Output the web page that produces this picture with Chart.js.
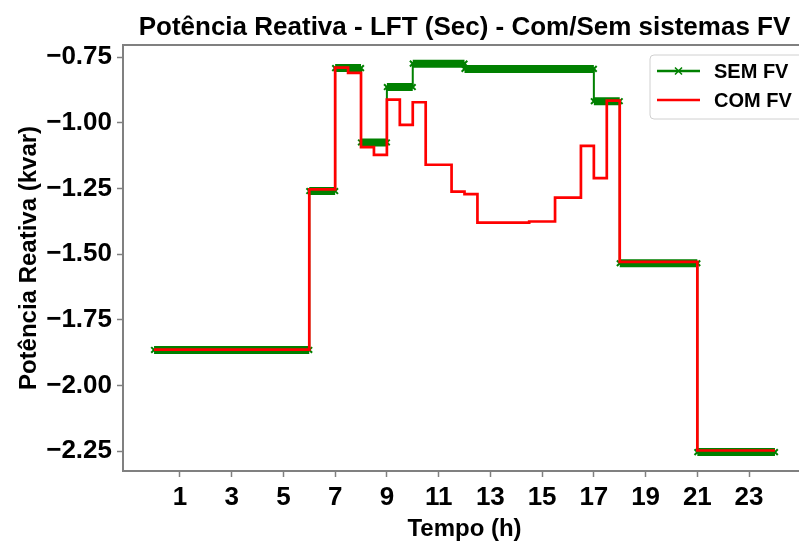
<!DOCTYPE html>
<html>
<head>
<meta charset="utf-8">
<script src="https://cdn.jsdelivr.net/npm/chart.js@4.4.0/dist/chart.umd.min.js"></script>
<style>
  html, body { margin: 0; padding: 0; background: #fff; overflow: hidden; }
  #wrap { width: 799px; height: 545px; overflow: hidden; }
  #box { width: 812px; height: 545px; }
</style>
</head>
<body>
<div id="wrap"><div id="box"><canvas id="myChart"></canvas></div></div>
<script>
// hour where each step starts, the last entry closes the day
var sem_x = [0, 6, 7, 8, 9, 10, 12, 17, 18, 21, 24];
var sem_q = [-1.865, -1.26, -0.792, -1.075, -0.864, -0.775, -0.795, -0.918, -1.535, -2.254];

var com_x = [0, 6, 7, 7.5, 8, 8.5, 9, 9.5, 10, 10.5, 11.5, 12, 12.5, 14.5, 15.5, 16.5, 17, 17.5, 18, 21, 24];
var com_q = [-1.864, -1.254, -0.79, -0.81, -1.093, -1.122, -0.912, -1.008, -0.922, -1.16, -1.262, -1.272,
             -1.38, -1.376, -1.285, -1.088, -1.211, -0.916, -1.53, -2.248];

var x_ticks = [1, 3, 5, 7, 9, 11, 13, 15, 17, 19, 21, 23];
var y_ticks = [-0.75, -1.00, -1.25, -1.50, -1.75, -2.00, -2.25];

var title_text = 'Potência Reativa - LFT (Sec) - Com/Sem sistemas FV';
var legend_names = ['SEM FV', 'COM FV'];

var FONT = '"Liberation Sans", Arial, sans-serif';
var GREEN = '#008000';
var RED = '#ff0000';

function step_points(xs, qs) {
    var pts = [];
    for (var i = 0; i < qs.length; i++) {
        pts.push({x: xs[i], y: qs[i]});
    }
    pts.push({x: xs[xs.length - 1], y: qs[qs.length - 1]});
    return pts;
}

// horizontal pieces only, used for the thick band of x markers
function band_points(xs, qs) {
    var pts = [];
    for (var i = 0; i < qs.length; i++) {
        pts.push({x: xs[i], y: qs[i]});
        pts.push({x: xs[i + 1], y: qs[i]});
        pts.push({x: xs[i + 1], y: null});
    }
    return pts;
}

function minus(v) {
    return v.toFixed(2).replace('-', '\u2212');
}

const frame_plugin = {
    id: 'frame_and_legend',
    afterDraw: (chart) => {
        const ctx = chart.ctx;
        const a = chart.chartArea;
        ctx.save();
        // spines
        ctx.strokeStyle = '#808080';
        ctx.lineWidth = 2;
        ctx.strokeRect(a.left, a.top, a.right - a.left, a.bottom - a.top);

        // title
        ctx.fillStyle = '#000';
        ctx.font = 'bold 26px ' + FONT;
        ctx.textAlign = 'center';
        ctx.textBaseline = 'middle';
        ctx.fillText(title_text, (a.left + a.right) / 2, 28);

        // legend
        var lx = 650, ly = 55;
        ctx.beginPath();
        ctx.roundRect(lx, ly, 170, 64, 4);
        ctx.fillStyle = 'rgba(255,255,255,0.8)';
        ctx.fill();
        ctx.strokeStyle = '#d0d0d0';
        ctx.lineWidth = 1;
        ctx.stroke();

        var cols = [GREEN, RED];
        for (var i = 0; i < 2; i++) {
            var yy = 71 + i * 29;
            ctx.strokeStyle = cols[i];
            ctx.lineWidth = 2.5;
            ctx.beginPath();
            ctx.moveTo(657, yy);
            ctx.lineTo(700, yy);
            ctx.stroke();
            if (i == 0) {
                ctx.lineWidth = 1.5;
                ctx.beginPath();
                ctx.moveTo(675, yy - 3.5); ctx.lineTo(682, yy + 3.5);
                ctx.moveTo(675, yy + 3.5); ctx.lineTo(682, yy - 3.5);
                ctx.stroke();
            }
            ctx.fillStyle = '#000';
            ctx.font = 'bold 20px ' + FONT;
            ctx.textAlign = 'left';
            ctx.fillText(legend_names[i], 714, yy + 1);
        }
        ctx.restore();
    }
};

var the_chart_canvas = document.getElementById('myChart').getContext('2d');
var myChart = new Chart(the_chart_canvas, {
    type: 'line',
    data: {
        datasets: [
            {
                label: legend_names[1],
                data: step_points(com_x, com_q),
                borderColor: RED,
                borderWidth: 2.7,
                stepped: 'before',
                pointRadius: 0,
                fill: false,
                order: 0
            },
            {
                label: legend_names[0],
                data: step_points(sem_x, sem_q),
                borderColor: GREEN,
                borderWidth: 2,
                stepped: 'before',
                pointRadius: 0,
                fill: false,
                order: 1
            },
            {
                label: 'band',
                data: band_points(sem_x, sem_q),
                borderColor: GREEN,
                backgroundColor: GREEN,
                borderWidth: 8,
                borderCapStyle: 'butt',
                pointStyle: 'crossRot',
                pointRadius: 4,
                pointBorderWidth: 2,
                pointBorderColor: GREEN,
                spanGaps: false,
                fill: false,
                order: 2
            }
        ]
    },
    options: {
        responsive: true,
        maintainAspectRatio: false,
        animation: false,
        layout: {padding: {top: 45, right: 3, left: 0, bottom: 0}},
        plugins: {
            legend: {display: false},
            tooltip: {enabled: false}
        },
        scales: {
            x: {
                type: 'linear',
                min: -1.2,
                max: 25.2,
                afterBuildTicks: (scale) => { scale.ticks = x_ticks.map(v => ({value: v})); },
                afterFit: (scale) => { scale.height = 74; },
                grid: {drawOnChartArea: false, tickLength: 6, color: '#808080', tickWidth: 1.5},
                border: {display: false},
                ticks: {
                    color: '#000',
                    font: {family: FONT, size: 26, weight: 'bold'},
                    padding: 5,
                    maxRotation: 0,
                    autoSkip: false
                },
                title: {
                    display: true,
                    text: 'Tempo (h)',
                    color: '#000',
                    font: {family: FONT, size: 24, weight: 'bold'},
                    padding: {top: 0, bottom: 1}
                }
            },
            y: {
                min: -2.326,
                max: -0.704,
                afterBuildTicks: (scale) => { scale.ticks = y_ticks.map(v => ({value: v})); },
                afterFit: (scale) => { scale.width = 123; },
                grid: {drawOnChartArea: false, tickLength: 6, color: '#808080', tickWidth: 1.5},
                border: {display: false},
                ticks: {
                    color: '#000',
                    font: {family: FONT, size: 26, weight: 'bold'},
                    padding: 5,
                    callback: (v) => minus(v)
                },
                title: {
                    display: true,
                    text: 'Potência Reativa (kvar)',
                    color: '#000',
                    font: {family: FONT, size: 24, weight: 'bold'},
                    padding: {top: 15, bottom: 0}
                }
            }
        }
    },
    plugins: [frame_plugin]
});
</script>
</body>
</html>
